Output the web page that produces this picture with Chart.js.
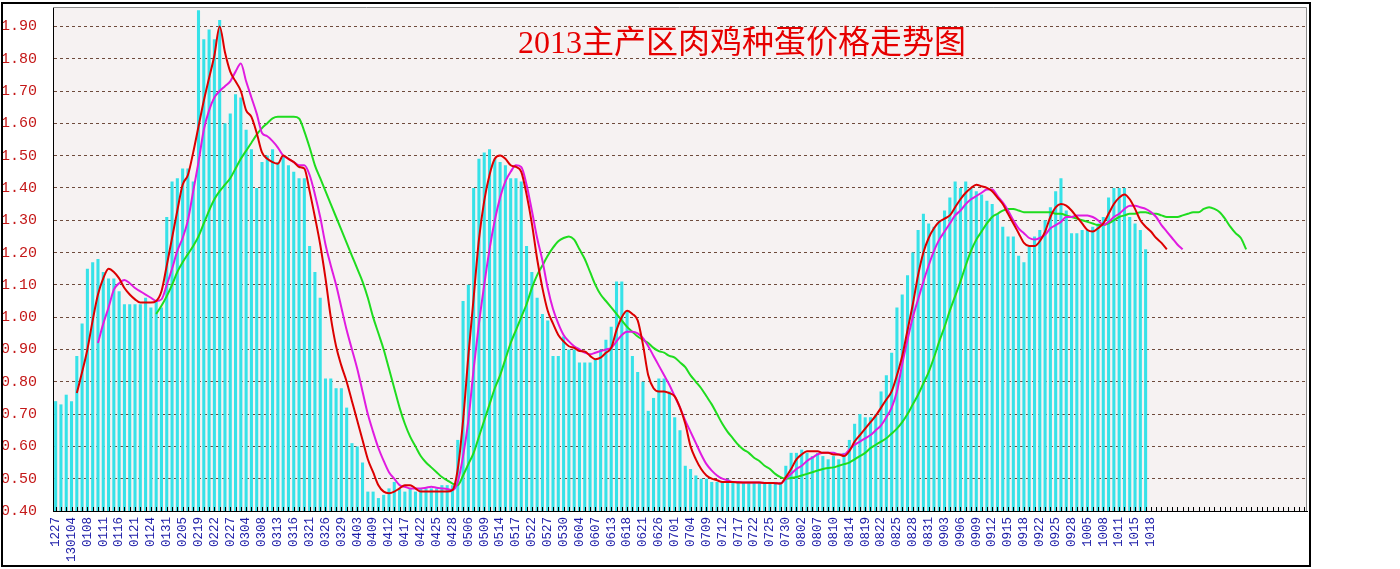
<!DOCTYPE html>
<html>
<head>
<meta charset="utf-8">
<title>2013主产区肉鸡种蛋价格走势图</title>
<script src="https://cdn.jsdelivr.net/npm/chart.js@4/dist/chart.umd.min.js"></script>
<style>
  html, body { margin: 0; padding: 0; background: #fff; }
  #wrap { position: relative; width: 1400px; height: 569px; }
  #title {
    position: absolute; left: 442px; top: 24px; width: 600px;
    text-align: center; white-space: nowrap; pointer-events: none;
    font: 32px/36px 'Liberation Serif', 'Noto Sans CJK SC', serif;
    color: #e60000;
  }
</style>
</head>
<body>
<div id="wrap">
  <canvas id="myChart" width="1400" height="569"></canvas>
  <div id="title">2013主产区肉鸡种蛋价格走势图</div>
</div>
<script>
'use strict';

// *********** DATA ***********
// one label for every third day slot
let dateLabels = [
  '1227', '130104', '0108', '0111', '0116', '0121', '0124', '0131', '0205', '0219',
  '0222', '0227', '0304', '0308', '0313', '0316', '0321', '0326', '0329', '0403',
  '0409', '0412', '0417', '0422', '0425', '0428', '0506', '0509', '0514', '0517',
  '0522', '0527', '0530', '0604', '0607', '0613', '0618', '0621', '0626', '0701',
  '0704', '0709', '0712', '0717', '0722', '0725', '0730', '0802', '0807', '0810',
  '0814', '0819', '0822', '0825', '0828', '0831', '0903', '0906', '0909', '0912',
  '0915', '0918', '0922', '0925', '0928', '1005', '1008', '1011', '1015', '1018'
];
let slotCount = 237;   // slots on the x axis, the last ones stay empty
let labelEvery = 3;

let yTicks = [0.4, 0.5, 0.6, 0.7, 0.8, 0.9, 1.0, 1.1, 1.2, 1.3, 1.4, 1.5, 1.6, 1.7, 1.8, 1.9];

// daily price (bars)
let prices = [
  0.74, 0.73, 0.76, 0.74, 0.88, 0.98, 1.15, 1.17, 1.18, 1.14,
  1.12, 1.12, 1.08, 1.04, 1.04, 1.04, 1.04, 1.06, 1.03, 1.05,
  1.03, 1.31, 1.42, 1.43, 1.46, 1.46, 1.42, 1.95, 1.86, 1.89,
  1.86, 1.92, 1.60, 1.63, 1.69, 1.68, 1.58, 1.52, 1.40, 1.48,
  1.50, 1.52, 1.48, 1.50, 1.47, 1.45, 1.43, 1.43, 1.22, 1.14,
  1.06, 0.81, 0.81, 0.78, 0.78, 0.72, 0.61, 0.60, 0.55, 0.46,
  0.46, 0.44, 0.45, 0.47, 0.49, 0.47, 0.46, 0.47, 0.46, 0.47,
  0.47, 0.47, 0.47, 0.48, 0.48, 0.48, 0.62, 1.05, 1.10, 1.40,
  1.49, 1.51, 1.52, 1.49, 1.48, 1.47, 1.43, 1.43, 1.42, 1.22,
  1.14, 1.06, 1.01, 0.99, 0.88, 0.88, 0.94, 0.90, 0.90, 0.86,
  0.86, 0.86, 0.87, 0.90, 0.93, 0.97, 1.11, 1.11, 1.02, 0.88,
  0.83, 0.80, 0.71, 0.75, 0.81, 0.81, 0.77, 0.69, 0.65, 0.54,
  0.53, 0.51, 0.50, 0.50, 0.49, 0.49, 0.49, 0.50, 0.49, 0.49,
  0.49, 0.49, 0.49, 0.49, 0.49, 0.49, 0.49, 0.49, 0.54, 0.58,
  0.58, 0.59, 0.58, 0.57, 0.58, 0.57, 0.56, 0.57, 0.56, 0.58,
  0.62, 0.67, 0.70, 0.69, 0.69, 0.70, 0.77, 0.82, 0.89, 1.03,
  1.07, 1.13, 1.20, 1.27, 1.32, 1.29, 1.28, 1.30, 1.33, 1.37,
  1.42, 1.40, 1.42, 1.40, 1.39, 1.38, 1.36, 1.35, 1.32, 1.28,
  1.25, 1.25, 1.19, 1.17, 1.22, 1.25, 1.27, 1.30, 1.34, 1.39,
  1.43, 1.33, 1.26, 1.26, 1.27, 1.27, 1.28, 1.29, 1.31, 1.37,
  1.40, 1.40, 1.40, 1.31, 1.29, 1.27, 1.21
];

// short average (red), first point sits on slot 4
let redStart = 4;
let redLine = [
  0.765, 0.83, 0.90, 0.99, 1.07, 1.12, 1.15, 1.14, 1.12, 1.09, 1.07, 1.055, 1.045, 1.045, 1.045, 1.05, 1.08,
  1.16, 1.245, 1.33, 1.41, 1.44, 1.51, 1.59, 1.67, 1.74, 1.81, 1.90, 1.82, 1.76, 1.73, 1.70,
  1.64, 1.62, 1.57, 1.51, 1.49, 1.48, 1.475, 1.50, 1.49, 1.48, 1.465, 1.46, 1.39, 1.31, 1.225,
  1.12, 1.00, 0.91, 0.85, 0.80, 0.74, 0.68, 0.62, 0.56, 0.52, 0.48, 0.46, 0.455, 0.46, 0.47,
  0.48, 0.48, 0.47, 0.46, 0.46, 0.46, 0.46, 0.46, 0.46, 0.465, 0.53,
  0.68, 0.88, 1.06, 1.24, 1.36, 1.44, 1.49, 1.50, 1.49, 1.47, 1.465, 1.45, 1.38, 1.29, 1.18,
  1.09, 1.02, 0.98, 0.945, 0.925, 0.91, 0.905, 0.895, 0.894, 0.88, 0.87, 0.875,
  0.89, 0.905, 0.96, 1.00, 1.02, 1.01, 0.99, 0.915, 0.82, 0.78, 0.77, 0.77, 0.765, 0.755,
  0.72, 0.67, 0.60, 0.56, 0.53, 0.51, 0.50, 0.495, 0.49, 0.49, 0.49, 0.488, 0.488, 0.488,
  0.488, 0.488, 0.487, 0.487, 0.486, 0.485,
  0.505, 0.53, 0.56, 0.575, 0.585, 0.585, 0.585, 0.58, 0.58, 0.575, 0.575, 0.57, 0.585,
  0.615, 0.635, 0.655, 0.675, 0.695,
  0.72, 0.745, 0.77, 0.82, 0.88, 0.96, 1.04, 1.13, 1.20, 1.245, 1.275, 1.295, 1.305, 1.315,
  1.34, 1.365, 1.385, 1.40, 1.41,
  1.405, 1.40, 1.39, 1.37, 1.35, 1.32, 1.29, 1.26, 1.23, 1.22, 1.22, 1.235, 1.265, 1.31,
  1.34, 1.35, 1.345, 1.33, 1.31, 1.29, 1.27, 1.265, 1.275, 1.29, 1.32, 1.35, 1.37, 1.38,
  1.365, 1.335, 1.30, 1.28, 1.265, 1.245, 1.23, 1.21
];

// middle average (magenta)
let magentaStart = 8;
let magentaLine = [
  0.92, 0.98, 1.03, 1.085, 1.105, 1.115, 1.105, 1.09, 1.08, 1.07, 1.06, 1.05, 1.055,
  1.10, 1.15, 1.205, 1.245, 1.30, 1.39, 1.48, 1.58, 1.64, 1.68, 1.70, 1.715, 1.73, 1.76, 1.785,
  1.73, 1.68, 1.63, 1.57, 1.56, 1.545, 1.525, 1.50, 1.49, 1.48, 1.47, 1.47, 1.44, 1.38, 1.31,
  1.225, 1.16, 1.10, 1.03, 0.96, 0.90, 0.84, 0.77, 0.70, 0.645, 0.595, 0.555, 0.52, 0.50,
  0.48, 0.475, 0.47, 0.47, 0.47, 0.472, 0.475, 0.472, 0.47, 0.468, 0.465, 0.49,
  0.57, 0.68, 0.84, 0.98, 1.10, 1.21, 1.30, 1.37, 1.42, 1.45, 1.47, 1.465, 1.41, 1.33,
  1.245, 1.175, 1.09, 1.025, 0.98, 0.945, 0.925, 0.91, 0.90, 0.89, 0.885, 0.89, 0.895,
  0.90, 0.905, 0.925, 0.945, 0.955, 0.955, 0.95, 0.935, 0.91, 0.88, 0.85, 0.82, 0.79, 0.755,
  0.72, 0.68, 0.645, 0.61, 0.575, 0.545, 0.525, 0.51, 0.50, 0.495, 0.49, 0.49, 0.488, 0.488,
  0.488, 0.488, 0.487, 0.487, 0.486, 0.485,
  0.50, 0.515, 0.53, 0.54, 0.555, 0.565, 0.575, 0.58, 0.58, 0.58, 0.575, 0.575, 0.59,
  0.605, 0.615, 0.625, 0.635, 0.65,
  0.665, 0.69, 0.72, 0.77, 0.855, 0.93, 1.00, 1.055, 1.11, 1.16, 1.205, 1.24, 1.265, 1.29,
  1.315, 1.33, 1.35, 1.365, 1.375, 1.385, 1.395, 1.395, 1.375, 1.355, 1.33, 1.30, 1.275,
  1.26, 1.245, 1.24, 1.245, 1.255, 1.275, 1.285, 1.295, 1.31, 1.31, 1.315, 1.315, 1.315,
  1.31, 1.30, 1.285, 1.295, 1.31, 1.32, 1.335, 1.345, 1.345, 1.34, 1.335, 1.325, 1.31,
  1.285, 1.265, 1.245, 1.225, 1.21
];

// long average (green)
let greenStart = 19;
let greenLine = [
  1.01, 1.035, 1.065, 1.10, 1.14, 1.17, 1.195, 1.22, 1.25, 1.29, 1.33, 1.365, 1.39, 1.41,
  1.43, 1.46, 1.49, 1.515, 1.54, 1.565, 1.585, 1.60, 1.615, 1.62, 1.62, 1.62, 1.62, 1.615,
  1.575, 1.525, 1.47, 1.43,
  1.39, 1.35, 1.31, 1.27, 1.23, 1.19, 1.15, 1.11, 1.06, 1.00, 0.95, 0.90, 0.84, 0.78, 0.72,
  0.67, 0.63, 0.60, 0.57, 0.55, 0.535, 0.52, 0.505, 0.495, 0.485, 0.48,
  0.51, 0.545, 0.58, 0.63, 0.68, 0.73, 0.78, 0.82, 0.87, 0.92, 0.96, 1.00, 1.04, 1.09, 1.13,
  1.16, 1.19, 1.215, 1.235, 1.245, 1.25, 1.24, 1.21, 1.18, 1.14, 1.10, 1.07, 1.05, 1.03,
  1.01, 0.99, 0.97, 0.955, 0.94, 0.93, 0.92, 0.905, 0.895, 0.89, 0.88, 0.875, 0.86, 0.845,
  0.82, 0.80, 0.78, 0.755, 0.73, 0.70, 0.67, 0.645, 0.625, 0.605, 0.59, 0.58, 0.565, 0.555,
  0.54, 0.53, 0.515, 0.505, 0.50,
  0.502, 0.505, 0.51, 0.515, 0.52, 0.525, 0.53, 0.533, 0.535, 0.54, 0.545, 0.55, 0.56, 0.57,
  0.58, 0.595, 0.605, 0.615, 0.625, 0.64, 0.655, 0.675, 0.70, 0.73, 0.76, 0.795, 0.83, 0.875,
  0.925, 0.97, 1.02, 1.065, 1.11, 1.16, 1.205, 1.24, 1.265, 1.29, 1.31, 1.32, 1.33, 1.335,
  1.335, 1.33, 1.325, 1.325, 1.325, 1.325, 1.325, 1.325, 1.32, 1.32, 1.315, 1.31, 1.305,
  1.30, 1.295, 1.29, 1.285, 1.285, 1.29, 1.30, 1.31, 1.315, 1.32, 1.32, 1.325, 1.325, 1.32,
  1.32, 1.315, 1.31, 1.31, 1.31, 1.315, 1.32, 1.325, 1.325, 1.335, 1.34, 1.335, 1.325,
  1.305, 1.28, 1.26, 1.245, 1.21
];

// ********** HELPERS *************
function padFront(start, values) {
  let out = [];
  for (let i = 0; i < start; i++) {
    out.push(null);
  }
  return out.concat(values);
}

function buildCategories() {
  let cats = [];
  for (let i = 0; i < slotCount; i++) {
    let n = i / labelEvery;
    cats.push(i % labelEvery === 0 && n < dateLabels.length ? dateLabels[n] : '');
  }
  return cats;
}

// paper background, plot frame, small inner ticks, outer frame
const framePlugin = {
  id: 'frame',
  beforeDraw(chart) {
    const { ctx, chartArea: a } = chart;
    ctx.save();
    ctx.fillStyle = '#ffffff';
    ctx.fillRect(0, 0, chart.width, chart.height);
    ctx.fillStyle = '#f6f2f2';
    ctx.fillRect(a.left, a.top, a.right - a.left, a.bottom - a.top);
    ctx.restore();
  },
  afterDraw(chart) {
    const { ctx, chartArea: a } = chart;
    const x = chart.scales.x;
    ctx.save();
    ctx.lineWidth = 1;
    ctx.strokeStyle = '#8c8c8c';
    ctx.beginPath();
    ctx.moveTo(a.left, a.top + 0.5);
    ctx.lineTo(a.right - 0.5, a.top + 0.5);
    ctx.lineTo(a.right - 0.5, a.bottom);
    ctx.stroke();

    ctx.strokeStyle = '#000';
    ctx.beginPath();
    for (let i = 0; i < slotCount; i++) {
      let px = Math.round(x.getPixelForValue(i)) + 0.5;
      ctx.moveTo(px, a.bottom);
      ctx.lineTo(px, a.bottom - 4);
    }
    ctx.stroke();

    ctx.lineWidth = 2;
    ctx.strokeRect(2, 3, 1308, 563);
    ctx.restore();
  }
};

// ********** CHART ***********
let ctx = document.getElementById('myChart').getContext('2d');

let lineStyle = {
  type: 'line',
  borderWidth: 2,
  pointRadius: 0,
  fill: false,
  tension: 0.3,
  cubicInterpolationMode: 'monotone'
};

let myChartObj = {
  type: 'bar',
  data: {
    labels: buildCategories(),
    datasets: [
      Object.assign({}, lineStyle, {
        label: 'short',
        data: padFront(redStart, redLine),
        borderColor: '#dc0000',
        order: 1
      }),
      Object.assign({}, lineStyle, {
        label: 'middle',
        data: padFront(magentaStart, magentaLine),
        borderColor: '#e01be0',
        order: 2
      }),
      Object.assign({}, lineStyle, {
        label: 'long',
        data: padFront(greenStart, greenLine),
        borderColor: '#1fdc1f',
        order: 3
      }),
      {
        type: 'bar',
        label: 'price',
        data: prices,
        backgroundColor: '#36e2e8',
        borderWidth: 0,
        barPercentage: 0.58,
        categoryPercentage: 1,
        order: 4
      }
    ]
  },
  options: {
    responsive: false,
    animation: false,
    events: [],
    layout: {
      padding: { left: 0, top: 7, right: 93, bottom: 0 }
    },
    plugins: {
      legend: { display: false },
      tooltip: { enabled: false },
      title: { display: false }
    },
    scales: {
      x: {
        offset: true,
        grid: { display: false, drawTicks: false },
        border: { display: true, color: '#000', width: 1 },
        ticks: {
          autoSkip: false,
          maxRotation: 90,
          minRotation: 90,
          padding: 6,
          color: '#1c1ca8',
          font: { family: "'Liberation Mono', monospace", size: 12.5 }
        },
        afterFit(scale) {
          scale.height = 58;
          scale.paddingLeft = 0;
          scale.paddingRight = 0;
        }
      },
      y: {
        min: 0.4,
        max: 1.96,
        afterBuildTicks(scale) {
          scale.ticks = yTicks.map(v => ({ value: v }));
        },
        grid: { color: '#6e4b3c', lineWidth: 1, drawTicks: false },
        border: { display: true, color: '#000', width: 1, dash: [3, 3] },
        ticks: {
          padding: 16,
          color: '#c41818',
          font: { family: "'Liberation Mono', monospace", size: 15 },
          callback: v => Number(v).toFixed(2)
        },
        afterFit(scale) {
          scale.width = 53;
          scale.paddingTop = 0;
          scale.paddingBottom = 0;
        }
      }
    }
  },
  plugins: [framePlugin]
};

const myChart = new Chart(ctx, myChartObj);
</script>
</body>
</html>
